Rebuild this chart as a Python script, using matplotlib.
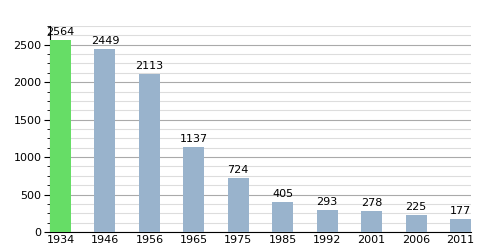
import matplotlib.pyplot as plt
from matplotlib.ticker import MultipleLocator

years = ['1934', '1946', '1956', '1965', '1975', '1985', '1992', '2001', '2006', '2011']
population = [2564, 2449, 2113, 1137, 724, 405, 293, 278, 225, 177]
colors = ['#66dd66'] + ['#99b3cc'] * 9

fig = plt.figure(figsize=(5, 2.5), dpi=100)
ax = fig.add_axes([0.1, 0.072, 0.842, 0.824])

x = range(len(years))
w = 0.473
ax.bar(x, population, width=w, color=colors, zorder=3)
for i, v in zip(x, population):
    ax.text(i, v + 40, str(v), ha='center', va='bottom', fontsize=8, zorder=4)

ax.set_xlim(-w / 2, len(years) - 1 + w / 2)
ax.set_ylim(0, 2750)
ax.yaxis.set_major_locator(MultipleLocator(500))
ax.yaxis.set_minor_locator(MultipleLocator(125))
ax.grid(axis='y', which='major', color='#aaaaaa', linewidth=0.8, zorder=0)
ax.grid(axis='y', which='minor', color='#dddddd', linewidth=0.8, zorder=0)
ax.set_xticks(list(x))
ax.set_xticklabels(years)
ax.tick_params(axis='x', length=0, labelsize=8, pad=2)
ax.tick_params(axis='y', which='major', length=4, labelsize=8, pad=2)
ax.tick_params(axis='y', which='minor', length=2)
for s in ['top', 'right']:
    ax.spines[s].set_visible(False)

fig.savefig('out.png', dpi=100)
